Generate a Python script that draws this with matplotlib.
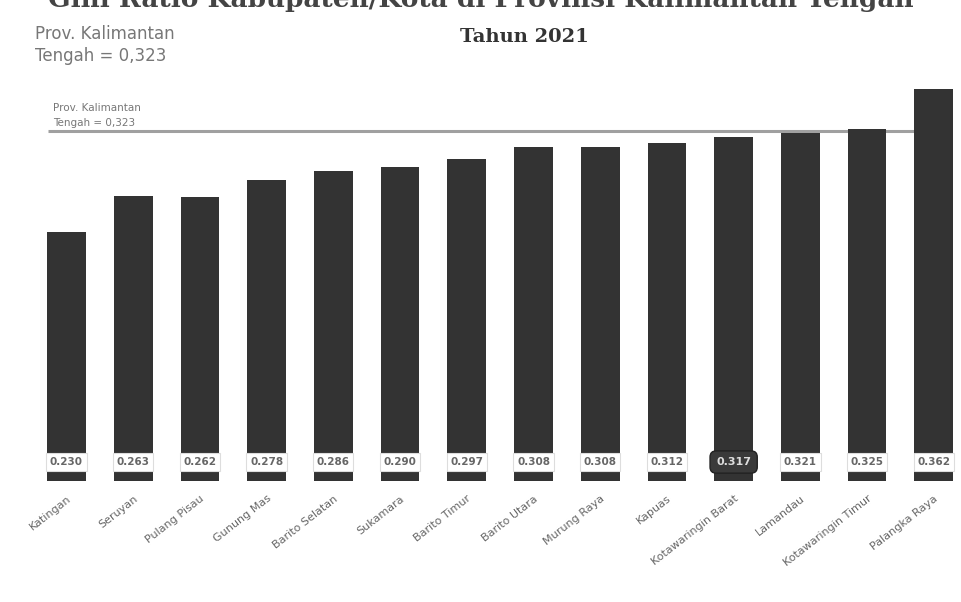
import matplotlib
matplotlib.use("Agg")
import matplotlib.pyplot as plt

# Gini ratio per kabupaten/kota, Kalimantan Tengah, 2021
regions = [
    "Katingan", "Seruyan", "Pulang Pisau", "Gunung Mas", "Barito Selatan",
    "Sukamara", "Barito Timur", "Barito Utara", "Murung Raya", "Kapuas",
    "Kotawaringin Barat", "Lamandau", "Kotawaringin Timur", "Palangka Raya",
]
gini = [0.230, 0.263, 0.262, 0.278, 0.286, 0.290, 0.297, 0.308, 0.308,
        0.312, 0.317, 0.321, 0.325, 0.362]
province_value = 0.323
highlight = "Kotawaringin Barat"

fig = plt.figure(figsize=(9.61, 6.02), dpi=100)
ax = fig.add_axes([0.031, 0.201, 0.965, 0.666])

x = list(range(len(regions)))
ax.bar(x, gini, width=0.58, color="#333333", zorder=2)

# province reference line
ax.hlines(province_value, -0.28, 12.72, color="#a0a0a0", lw=2.2, zorder=1)
ax.text(-0.2, province_value + 0.003, "Prov. Kalimantan\nTengah = 0,323",
        fontsize=7.5, color="#777777", ha="left", va="bottom",
        linespacing=1.6, zorder=3)

# value labels near the foot of each bar
for xi, name, v in zip(x, regions, gini):
    if name == highlight:
        ax.text(xi, 0.0175, f"{v:.3f}", ha="center", va="center",
                fontsize=8, fontweight="bold", color="#dddddd", zorder=4,
                bbox=dict(boxstyle="round,pad=0.55", fc="#3a3a3a",
                          ec="#222222", lw=1))
    else:
        ax.text(xi, 0.0175, f"{v:.3f}", ha="center", va="center",
                fontsize=7.5, fontweight="bold", color="#666666", zorder=4,
                bbox=dict(boxstyle="square,pad=0.35", fc="white",
                          ec="#dddddd", lw=0.8))

ax.set_xlim(-0.55, 13.35)
ax.set_ylim(0, 0.37)
ax.set_xticks(x)
ax.set_xticklabels(regions, rotation=38, ha="right", rotation_mode="anchor",
                   fontsize=8, color="#666666")
ax.tick_params(axis="x", length=0, pad=9)
ax.set_yticks([])
for s in ax.spines.values():
    s.set_visible(False)

# headings
fig.text(0.5, 0.988, "Gini Ratio Kabupaten/Kota di Provinsi Kalimantan Tengah",
         ha="center", va="baseline", fontsize=19, fontweight="bold",
         family="DejaVu Serif", color="#444444")
fig.text(0.546, 0.938, "Tahun 2021", ha="center", va="center",
         fontsize=14, fontweight="bold", family="DejaVu Serif",
         color="#333333")
fig.text(0.036, 0.925, "Prov. Kalimantan\nTengah = 0,323", ha="left",
         va="center", fontsize=12, color="#777777", linespacing=1.3,
         family=["Liberation Sans Narrow", "DejaVu Sans"])

fig.savefig("out.png", dpi=100, facecolor="white")
